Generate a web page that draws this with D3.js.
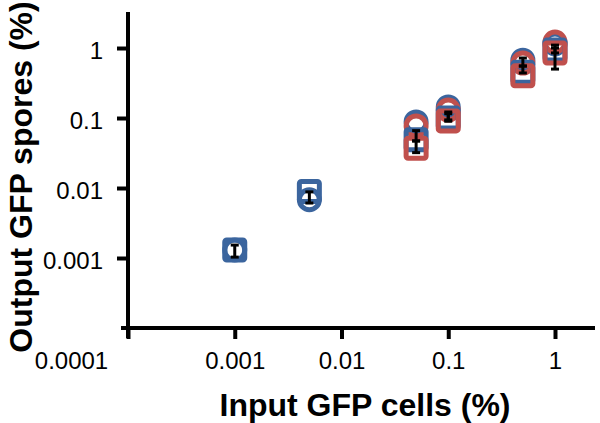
<!DOCTYPE html>
<html>
<head>
<meta charset="utf-8">
<script src="https://cdn.jsdelivr.net/npm/d3@7/dist/d3.min.js"></script>
<style>
  body { margin: 0; background: #fff; }
  text { font-family: "Liberation Sans", Arial, sans-serif; }
  .axis path, .axis line { stroke: #000; stroke-width: 4; }
  .axis text { font-size: 24px; fill: #000; }
</style>
</head>
<body>
<div id="chart"></div>
<script>
// Input GFP cells (%) levels
var xLevels = [0.001, 0.005, 0.05, 0.1, 0.5, 1];

var blueCircle = [0.0013, 0.0068, 0.088, 0.144, 0.67, 1.14];
var blueSquare = [0.0013, 0.0089, 0.049, 0.100, 0.45, 0.94];
var redCircle  = [null, null, 0.077, 0.130, 0.61, 1.22];
var redSquare  = [null, null, 0.037, 0.091, 0.40, 0.85];

// error bars (low / high)
var blueLo = [0.00103, 0.0061, 0.047, 0.094, 0.553, 0.85];
var blueHi = [0.00153, 0.0088, 0.066, 0.122, 0.72, 1.10];
var redLo  = [null, null, 0.032, 0.090, 0.44, 0.50];
var redHi  = [null, null, 0.047, 0.115, 0.553, 1.00];

var tickVals = [0.0001, 0.001, 0.01, 0.1, 1];
var tickLabels = ["0.0001", "0.001", "0.01", "0.1", "1"];

var blue = "#3b659e", red = "#c0504d";

var width = 600, height = 423;

var svg = d3.select("#chart").append("svg")
    .attr("width", width)
    .attr("height", height);

// Set the ranges
var x = d3.scaleLog().domain([1e-4, 2.37]).range([128, 595]);
var y = d3.scaleLog().domain([1e-4, 3.27]).range([328, 12]);

var fmt = function(d) { return tickLabels[tickVals.indexOf(d)]; };

// X axis
var gx = svg.append("g")
    .attr("class", "x axis")
    .attr("transform", "translate(0,328)")
    .call(d3.axisBottom(x).tickValues(tickVals).tickFormat(fmt)
        .tickSize(11).tickSizeOuter(0).tickPadding(13));
gx.select(".domain").attr("d", "M121,0H595");
gx.selectAll(".tick text")
    .attr("dx", function(d) { return d === 0.0001 ? -57 : 0; });

// Y axis
var gy = svg.append("g")
    .attr("class", "y axis")
    .attr("transform", "translate(128,0)")
    .call(d3.axisLeft(y).tickValues(tickVals.slice(1)).tickFormat(fmt)
        .tickSize(11).tickSizeOuter(0).tickPadding(14));
gy.select(".domain").attr("d", "M0,12V338");
gy.selectAll(".tick text").attr("dy", "0.45em");

// markers
function toPts(vals) {
    return xLevels.map(function(d, i) { return {x: d, y: vals[i]}; })
        .filter(function(d) { return d.y != null; });
}

function circles(vals, color) {
    svg.append("g").selectAll("circle")
        .data(toPts(vals)).enter().append("circle")
        .attr("cx", function(d) { return x(d.x); })
        .attr("cy", function(d) { return y(d.y); })
        .attr("r", 10)
        .attr("fill", "none")
        .attr("stroke", color)
        .attr("stroke-width", 5);
}

function squares(vals, color) {
    svg.append("g").selectAll("rect")
        .data(toPts(vals)).enter().append("rect")
        .attr("x", function(d) { return x(d.x) - 10; })
        .attr("y", function(d) { return y(d.y) - 10; })
        .attr("width", 20)
        .attr("height", 20)
        .attr("rx", 2)
        .attr("fill", "none")
        .attr("stroke", color)
        .attr("stroke-width", 5);
}

circles(blueCircle, blue);
circles(redCircle, red);
squares(blueSquare, blue);
squares(redSquare, red);

// error bars
function errorBars(lo, hi) {
    var data = xLevels.map(function(d, i) { return {x: d, lo: lo[i], hi: hi[i]}; })
        .filter(function(d) { return d.lo != null; });
    var g = svg.append("g").selectAll("g").data(data).enter().append("g")
        .attr("stroke", "#000")
        .attr("stroke-width", 3);
    g.append("line")
        .attr("x1", function(d) { return x(d.x); })
        .attr("x2", function(d) { return x(d.x); })
        .attr("y1", function(d) { return y(d.lo); })
        .attr("y2", function(d) { return y(d.hi); });
    ["lo", "hi"].forEach(function(k) {
        g.append("line")
            .attr("x1", function(d) { return x(d.x) - 4; })
            .attr("x2", function(d) { return x(d.x) + 4; })
            .attr("y1", function(d) { return y(d[k]); })
            .attr("y2", function(d) { return y(d[k]); });
    });
}
errorBars(blueLo, blueHi);
errorBars(redLo, redHi);

// axis titles
svg.append("text")
    .attr("x", 365)
    .attr("y", 416)
    .attr("text-anchor", "middle")
    .attr("font-weight", "bold")
    .attr("font-size", 32)
    .text("Input GFP cells (%)");

svg.append("text")
    .attr("transform", "translate(32,177) rotate(-90)")
    .attr("text-anchor", "middle")
    .attr("font-weight", "bold")
    .attr("font-size", 32)
    .text("Output GFP spores (%)");
</script>
</body>
</html>
